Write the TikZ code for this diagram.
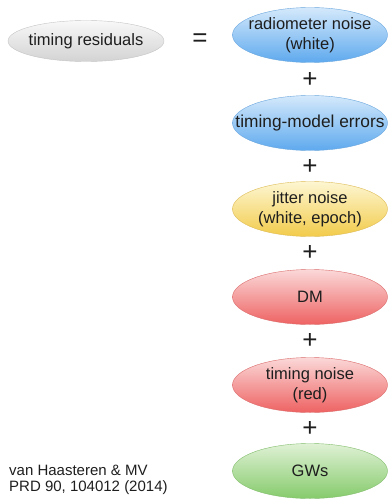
\documentclass[tikz,border=0pt]{standalone}
\usepackage{fontspec}
\setmainfont{Liberation Sans}
\usetikzlibrary{shapes.geometric}
\definecolor{txt}{HTML}{1E1E1E}
\definecolor{greyT}{HTML}{F8F8F8}\definecolor{greyB}{HTML}{D3D3D3}\definecolor{greyD}{HTML}{C4C4C4}
\definecolor{blueT}{HTML}{D4E9FB}\definecolor{blueB}{HTML}{5EA9EE}\definecolor{blueD}{HTML}{6AA6DD}
\definecolor{yelT}{HTML}{FDF6D2}\definecolor{yelB}{HTML}{F2CB4A}\definecolor{yelD}{HTML}{DDBB55}
\definecolor{redT}{HTML}{FBD8D8}\definecolor{redB}{HTML}{EE6262}\definecolor{redD}{HTML}{DB6B6B}
\definecolor{grnT}{HTML}{DFF1D5}\definecolor{grnB}{HTML}{86CB6C}\definecolor{grnD}{HTML}{82BD6C}
\begin{document}
\begin{tikzpicture}[x=1pt,y=-1pt,
  blob/.style={ellipse, minimum width=155pt, minimum height=55pt,
    inner xsep=-30pt, inner ysep=-10pt,
    align=center, text=txt, font=\fontsize{16.5}{19.5}\selectfont,
    top color=#1T, bottom color=#1B, draw=#1D, line width=0.4pt},
  op/.style={text=txt, font=\fontsize{26}{26}\selectfont, inner sep=0pt},
  cite/.style={text=txt, font=\fontsize{15}{15.5}\selectfont, align=left, inner sep=0pt, anchor=west}]
\useasboundingbox (0,0) rectangle (391,500);
\node[blob=grey, minimum width=156pt, minimum height=41pt] (res) at (86,41) {timing residuals};
\node[op] (eq) at (200,40) {=};
\node[blob=blue] (rad) at (310,35) {radiometer noise\\(white)};
\node[op] (p1) at (310,80) {+};
\node[blob=blue] (tm) at (310,123) {\fontsize{17.3}{20}\selectfont timing-model errors};
\node[op] (p2) at (310,167) {+};
\node[blob=yel] (jit) at (310,209) {jitter noise\\(white, epoch)};
\node[op] (p3) at (310,253) {+};
\node[blob=red] (dm) at (310,297) {DM};
\node[op] (p4) at (310,341) {+};
\node[blob=red] (tn) at (310,385) {timing noise\\(red)};
\node[op] (p5) at (310,429) {+};
\node[blob=grn] (gw) at (310,471) {GWs};
\node[cite] (ref) at (9,480) {van Haasteren \& MV\\PRD 90, 104012 (2014)};
\end{tikzpicture}
\end{document}
